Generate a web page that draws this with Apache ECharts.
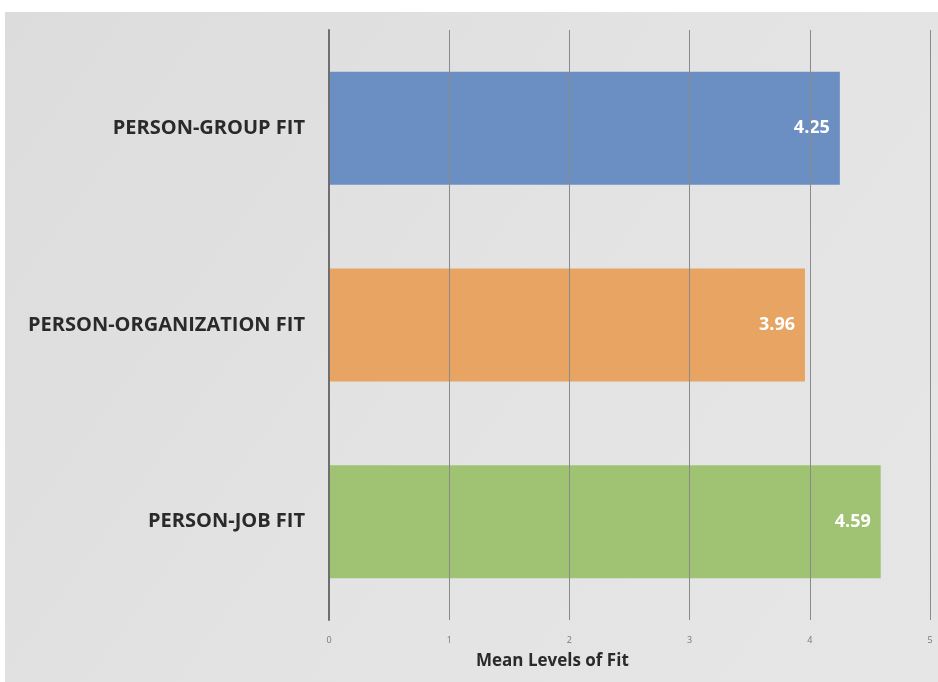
<!DOCTYPE html>
<html>
<head>
<meta charset="utf-8">
<script src="https://cdn.jsdelivr.net/npm/echarts@6/dist/echarts.min.js"></script>
<style>
  html, body { margin: 0; padding: 0; background: #ffffff; }
  #chart { width: 938px; height: 682px; }
</style>
</head>
<body>
<div id="chart"></div>
<script>
// Fit dimensions, listed top to bottom as drawn
const categories = ['PERSON-GROUP FIT', 'PERSON-ORGANIZATION FIT', 'PERSON-JOB FIT'];
const meanValues = [4.25, 3.96, 4.59];
const barColors = ['#6b8fc2', '#e8a462', '#9fc373'];
const xTicks = [0, 1, 2, 3, 4, 5];
const axisTitle = 'Mean Levels of Fit';

const chart = echarts.init(document.getElementById('chart'), null, { renderer: 'canvas' });

chart.setOption({
  backgroundColor: '#ffffff',
  animation: false,
  graphic: [
    {
      type: 'rect',
      z: -10,
      shape: { x: 5, y: 12, width: 933, height: 670 },
      style: {
        fill: new echarts.graphic.LinearGradient(0, 0, 1, 1, [
          { offset: 0, color: '#dcdcdc' },
          { offset: 0.5, color: '#e3e3e3' },
          { offset: 1, color: '#e6e6e6' }
        ])
      }
    },
    {
      type: 'text',
      left: 476,
      top: 653,
      style: {
        text: axisTitle,
        font: 'bold 17px "Open Sans", sans-serif',
        fill: '#2a2a2a'
      }
    }
  ],
  grid: { left: 329, right: 8, top: 30, bottom: 62 },
  xAxis: {
    type: 'value',
    min: xTicks[0],
    max: xTicks[xTicks.length - 1],
    interval: 1,
    z: 5,
    axisLine: { show: false },
    axisTick: { show: false },
    axisLabel: { color: '#777', fontSize: 9, margin: 16, fontFamily: 'Open Sans' },
    splitLine: { show: true, lineStyle: { color: '#8a8a8a', width: 1 } }
  },
  yAxis: {
    type: 'category',
    data: categories,
    inverse: true,
    z: 5,
    axisLine: { show: true, lineStyle: { color: '#6e6e6e', width: 2 } },
    axisTick: { show: false },
    axisLabel: {
      color: '#2a2a2a',
      fontSize: 20,
      fontWeight: 'bold',
      fontFamily: 'Open Sans',
      margin: 24,
      padding: [3, 0, 0, 0]
    }
  },
  series: [{
    type: 'bar',
    barWidth: 113,
    data: meanValues.map((v, i) => ({ value: v, itemStyle: { color: barColors[i] } })),
    label: {
      show: true,
      position: 'insideRight',
      distance: 10,
      color: '#ffffff',
      fontWeight: 'bold',
      fontSize: 18,
      fontFamily: 'Open Sans',
      padding: [4, 0, 0, 0],
      formatter: p => p.value.toFixed(2)
    }
  }]
});
</script>
</body>
</html>
